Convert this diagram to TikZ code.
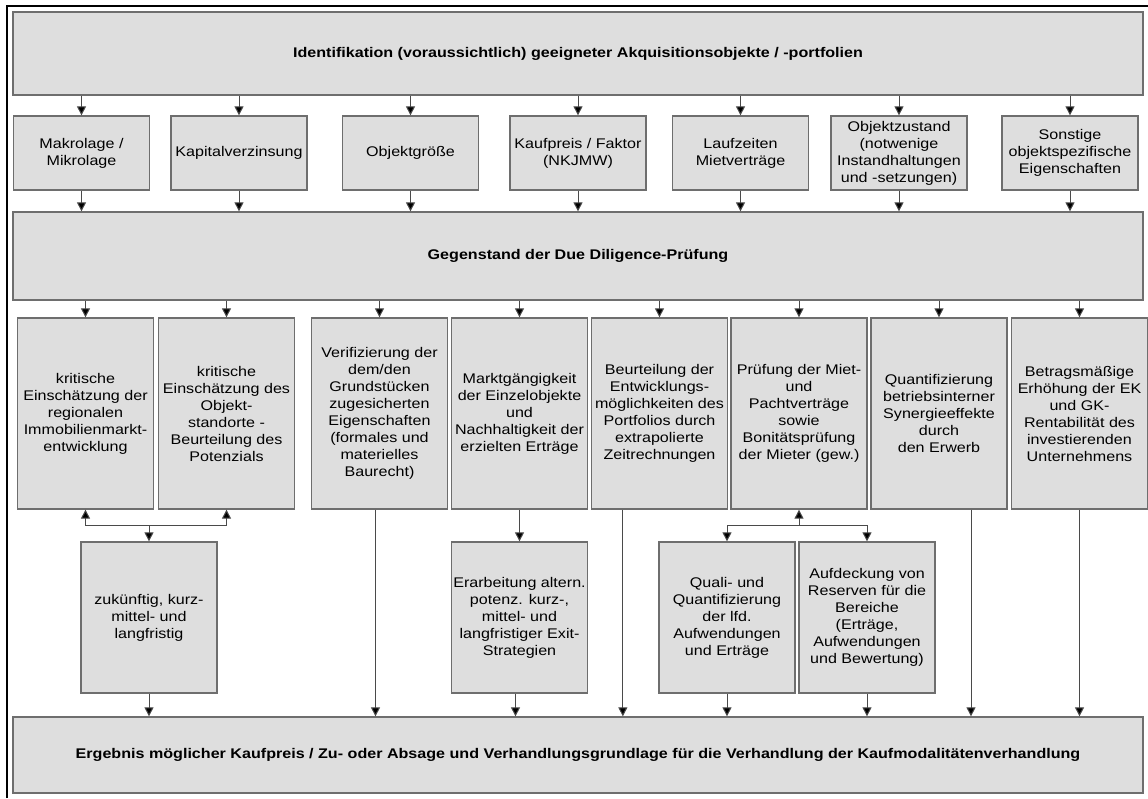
\documentclass[tikz,border=0pt]{standalone}
\usepackage{fontspec}
\setmainfont{Liberation Sans}[FakeStretch=1.15]
\usepackage{tikz}
\usetikzlibrary{arrows.meta,calc}

\definecolor{boxfill}{HTML}{DEDEDE}
\definecolor{boxline}{HTML}{6E6E6E}
\definecolor{linkline}{HTML}{4A4A4A}

\tikzset{
  box/.style={draw=boxline, fill=boxfill, line width=1.3pt, align=center,
    inner sep=0pt, font=\fontsize{14}{17}\selectfont},
  wide/.style={box, minimum width=1130pt, font=\bfseries\fontsize{14}{17}\selectfont},
  crit/.style={box, minimum width=136pt, minimum height=74pt},
  task/.style={box, minimum width=136pt, minimum height=191pt},
  sub/.style={box, minimum width=136pt, minimum height=151pt},
  link/.style={draw=linkline, line width=1pt, -{Triangle[length=9pt,width=9pt,fill=black]}},
  plain/.style={draw=linkline, line width=1pt}
}

\begin{document}
\begin{tikzpicture}[x=1pt,y=-1pt]
  \useasboundingbox (0,0) rectangle (1148,798);
  \fill[white] (0,0) rectangle (1148,798);
  % outer frame (only the left and top edge are visible)
  \draw[line width=1.5pt] (7,798) -- (7,6) -- (1148,6);

  \node[wide, minimum height=83pt] (top) at (578,53.5)
    {Identifikation (voraussichtlich) geeigneter Akquisitionsobjekte / -portfolien};

  % criteria
  \node[crit] (m1) at (81.5,153) {Makrolage /\\Mikrolage};
  \node[crit] (m2) at (239,153) {Kapitalverzinsung};
  \node[crit] (m3) at (410.5,153) {Objektgröße};
  \node[crit] (m4) at (578,153) {Kaufpreis / Faktor\\(NKJMW)};
  \node[crit] (m5) at (740.5,153) {Laufzeiten\\Mietverträge};
  \node[crit] (m6) at (899,153) {Objektzustand\\(notwenige\\Instandhaltungen\\und -setzungen)};
  \node[crit] (m7) at (1070,153) {Sonstige\\objektspezifische\\Eigenschaften};

  \node[wide, minimum height=88pt] (mid) at (578,256) {Gegenstand der Due Diligence-Prüfung};

  % tasks
  \node[task] (b1) at (85.5,413.5) {kritische\\Einschätzung der\\regionalen\\Immobilienmarkt-\\entwicklung};
  \node[task] (b2) at (226.5,413.5) {kritische\\Einschätzung des\\Objekt-\\standorte -\\Beurteilung des\\Potenzials};
  \node[task] (b3) at (379.5,413.5) {Verifizierung der\\dem/den\\Grundstücken\\zugesicherten\\Eigenschaften\\(formales und\\materielles\\Baurecht)};
  \node[task] (b4) at (519.5,413.5) {Marktgängigkeit\\der Einzelobjekte\\und\\Nachhaltigkeit der\\erzielten Erträge};
  \node[task] (b5) at (659.5,413.5) {Beurteilung der\\Entwicklungs-\\möglichkeiten des\\Portfolios durch\\extrapolierte\\Zeitrechnungen};
  \node[task] (b6) at (799,413.5) {Prüfung der Miet-\\und\\Pachtverträge\\sowie\\Bonitätsprüfung\\der Mieter (gew.)};
  \node[task] (b7) at (939,413.5) {Quantifizierung\\betriebsinterner\\Synergieeffekte\\durch\\den Erwerb};
  \node[task] (b8) at (1079.5,413.5) {Betragsmäßige\\Erhöhung der EK\\und GK-\\Rentabilität des\\investierenden\\Unternehmens};

  % sub tasks
  \node[sub] (z) at (149,617.5) {zukünftig, kurz-\\mittel- und\\langfristig};
  \node[sub] (e) at (519.5,617.5) {Erarbeitung altern.\\potenz. kurz-,\\mittel- und\\langfristiger Exit-\\Strategien};
  \node[sub] (q) at (727,617.5) {Quali- und\\Quantifizierung\\der lfd.\\Aufwendungen\\und Erträge};
  \node[sub] (a) at (867,617.5) {Aufdeckung von\\Reserven für die\\Bereiche\\(Erträge,\\Aufwendungen\\und Bewertung)};

  \node[wide, minimum height=76pt] (bot) at (578,755)
    {Ergebnis möglicher Kaufpreis / Zu- oder Absage und Verhandlungsgrundlage für die Verhandlung der Kaufmodalitätenverhandlung};

  \coordinate (j1) at (149,525);
  \coordinate (j2) at (799,525);

  % connectors
  \foreach \m in {m1,m2,m3,m4,m5,m6,m7} {
    \draw[link] (\m.north |- top.south) -- (\m.north);
    \draw[link] (\m.south) -- (\m.south |- mid.north);
  }
  \foreach \b in {b1,b2,b3,b4,b5,b6,b7,b8}
    \draw[link] (\b.north |- mid.south) -- (\b.north);

  \draw[link] (j1) -| (b1.south);
  \draw[link] (j1) -| (b2.south);
  \draw[link] (j1) -- (z.north);
  \draw[link] (z.south) -- (z.south |- bot.north);

  \draw[link] ([xshift=-4pt]b3.south) -- ([xshift=-4pt]b3.south |- bot.north);
  \draw[link] (b4.south) -- (e.north);
  \draw[link] ([xshift=-4pt]e.south) -- ([xshift=-4pt]e.south |- bot.north);
  \draw[link] ([xshift=32pt]b5.south west) -- ([xshift=32pt]b5.south west |- bot.north);

  \draw[link] (j2) -- (b6.south);
  \draw[link] (j2) -| (q.north);
  \draw[link] (j2) -| (a.north);
  \draw[link] (q.south) -- (q.south |- bot.north);
  \draw[link] (a.south) -- (a.south |- bot.north);

  \draw[link] ([xshift=32pt]b7.south) -- ([xshift=32pt]b7.south |- bot.north);
  \draw[link] (b8.south) -- (b8.south |- bot.north);
\end{tikzpicture}
\end{document}
